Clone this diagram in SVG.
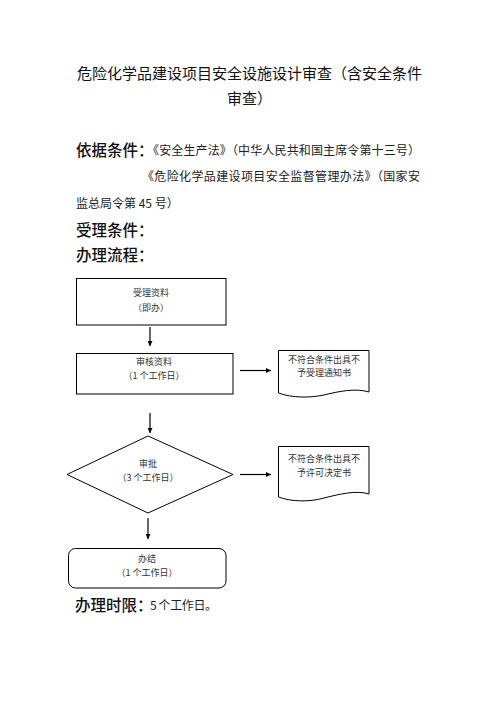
<svg xmlns="http://www.w3.org/2000/svg" width="496" height="702" viewBox="0 0 496 702">
<style>
.t{font-family:"Noto Sans CJK SC","Liberation Sans",sans-serif;fill:#111}
.h{font-size:15.5px;font-weight:500}
.ti{font-size:15px}
.b{font-size:12px;fill:#222}
.s{font-size:9px;fill:#333;text-anchor:middle}
.shape{fill:#fff;stroke:#000;stroke-width:1}
.c{stroke:#000;stroke-width:1.2;fill:none}
</style>
<defs>
<marker id="ah" viewBox="0 0 10 10" refX="10" refY="5" markerWidth="5" markerHeight="5" orient="auto" markerUnits="userSpaceOnUse">
<path d="M0,0 L10,5 L0,10 Z" fill="#000"/>
</marker>
</defs>
<rect width="496" height="702" fill="#fff"/>
<g id="header">
<text class="t ti" x="77" y="78.7" textLength="345" lengthAdjust="spacing">危险化学品建设项目安全设施设计审查（含安全条件</text>
<text class="t ti" x="227" y="103.7">审查）</text>
<text class="t h" x="76" y="155.5">依据条件：</text>
<text class="t b" x="147" y="154.8" textLength="273" lengthAdjust="spacing">《安全生产法》（中华人民共和国主席令第十三号）</text>
<text class="t b" x="142" y="180.5" textLength="278" lengthAdjust="spacing">《危险化学品建设项目安全监督管理办法》（国家安</text>
<text class="t b" x="76" y="207.5">监总局令第 45 号）</text>
<text class="t h" x="76" y="235.8">受理条件：</text>
<text class="t h" x="76" y="260.8">办理流程：</text>
<text class="t h" x="75" y="610.8">办理时限：</text>
<text class="t b" x="150" y="609.6" textLength="67" lengthAdjust="spacing">5 个工作日。</text>
</g>
<g id="connectors">
<line class="c" x1="150" y1="327" x2="150" y2="346" marker-end="url(#ah)"/>
<line class="c" x1="240" y1="370.5" x2="271" y2="370.5" marker-end="url(#ah)"/>
<line class="c" x1="150" y1="413" x2="150" y2="433" marker-end="url(#ah)"/>
<line class="c" x1="240" y1="474.5" x2="271" y2="474.5" marker-end="url(#ah)"/>
<line class="c" x1="148" y1="518" x2="148" y2="539" marker-end="url(#ah)"/>
</g>
<g id="node-accept">
<rect class="shape" x="76.5" y="278.5" width="149.5" height="46.5"/>
<text class="t s" x="151" y="296.4">受理资料</text>
<text class="t s" x="151" y="311">（即办）</text>
</g>
<g id="node-review">
<rect class="shape" x="76.5" y="353.5" width="156.5" height="40.5"/>
<text class="t s" x="154" y="365.2">审核资料</text>
<text class="t s" x="154" y="379.2">（1 个工作日）</text>
</g>
<g id="node-reject1">
<path class="shape" d="M278.5,350.5 H369 V392 C356,388 340,391 324,395 C310,398 292,398 278.5,393 Z"/>
<text class="t s" x="324" y="363.4">不符合条件出具不</text>
<text class="t s" x="324" y="376.4">予受理通知书</text>
</g>
<g id="node-approve">
<polygon class="shape" points="148,436 233,474.5 148,513 67,474.5"/>
<text class="t s" x="148" y="467.4">审批</text>
<text class="t s" x="148" y="481.4">（3 个工作日）</text>
</g>
<g id="node-reject2">
<path class="shape" d="M278.5,446.5 H369 V494 C356,490 340,494 324,498 C310,502 292,502 278.5,497 Z"/>
<text class="t s" x="324" y="462.4">不符合条件出具不</text>
<text class="t s" x="324" y="476.4">予许可决定书</text>
</g>
<g id="node-finish">
<rect class="shape" x="68.5" y="548.5" width="157.5" height="39.5" rx="7" ry="7"/>
<text class="t s" x="147" y="561.8">办结</text>
<text class="t s" x="147" y="576">（1 个工作日）</text>
</g>
</svg>
